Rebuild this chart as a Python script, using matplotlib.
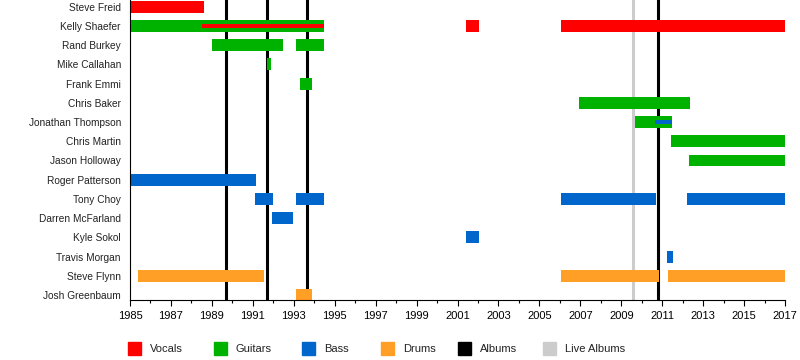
import matplotlib.pyplot as plt
from matplotlib.patches import Rectangle

plt.rcParams['font.family'] = ['Liberation Sans', 'DejaVu Sans']

members = ["Steve Freid", "Kelly Shaefer", "Rand Burkey", "Mike Callahan",
           "Frank Emmi", "Chris Baker", "Jonathan Thompson", "Chris Martin",
           "Jason Holloway", "Roger Patterson", "Tony Choy", "Darren McFarland",
           "Kyle Sokol", "Travis Morgan", "Steve Flynn", "Josh Greenbaum"]

# (member, start, end) in decimal years
vocals = [("Steve Freid", 1985.0, 1988.6),
          ("Kelly Shaefer", 2001.4, 2002.05),
          ("Kelly Shaefer", 2006.05, 2017.0)]
guitars = [("Kelly Shaefer", 1985.0, 1994.5),
           ("Rand Burkey", 1989.0, 1992.47),
           ("Rand Burkey", 1993.1, 1994.5),
           ("Mike Callahan", 1991.7, 1991.9),
           ("Frank Emmi", 1993.3, 1993.9),
           ("Chris Baker", 2006.93, 2012.36),
           ("Jonathan Thompson", 2009.67, 2011.47),
           ("Chris Martin", 2011.43, 2017.0),
           ("Jason Holloway", 2012.31, 2017.0)]
bass = [("Roger Patterson", 1985.0, 1991.16),
        ("Tony Choy", 1991.1, 1992.0),
        ("Tony Choy", 1993.1, 1994.5),
        ("Tony Choy", 2006.05, 2010.7),
        ("Tony Choy", 2012.21, 2017.0),
        ("Darren McFarland", 1991.94, 1992.96),
        ("Kyle Sokol", 2001.4, 2002.05),
        ("Travis Morgan", 2011.23, 2011.53)]
drums = [("Steve Flynn", 1985.39, 1991.55),
         ("Steve Flynn", 2006.05, 2010.84),
         ("Steve Flynn", 2011.28, 2017.0),
         ("Josh Greenbaum", 1993.1, 1993.9)]

# secondary roles shown as thin strips
vocals_thin = [("Kelly Shaefer", 1988.5, 1994.5)]
bass_thin = [("Jonathan Thompson", 2010.65, 2011.47)]

albums = [1989.67, 1991.68, 1993.65, 2010.81]
live_albums = [2009.59]

colors = {"Vocals": "#ff0000", "Guitars": "#00b200", "Bass": "#0066cc",
          "Drums": "#ff9f25", "Albums": "#000000", "Live Albums": "#cccccc"}

fig = plt.figure(figsize=(8, 3.6), dpi=100)
ax = fig.add_axes([130 / 800, 60 / 360, 655 / 800, 300 / 360])

row = {name: len(members) - 1 - i for i, name in enumerate(members)}
bar_h = 0.62
thin_h = 0.2

for x in live_albums:
    ax.axvline(x, color=colors["Live Albums"], lw=2.2, zorder=1)
for x in albums:
    ax.axvline(x, color=colors["Albums"], lw=2.2, zorder=1)

for periods, key in [(vocals, "Vocals"), (guitars, "Guitars"),
                     (bass, "Bass"), (drums, "Drums")]:
    for name, start, end in periods:
        ax.barh(row[name], end - start, left=start, height=bar_h,
                color=colors[key], linewidth=0, zorder=2)

for periods, key in [(vocals_thin, "Vocals"), (bass_thin, "Bass")]:
    for name, start, end in periods:
        ax.barh(row[name], end - start, left=start, height=thin_h,
                color=colors[key], linewidth=0, zorder=3)

ax.set_xlim(1985, 2017)
ax.set_ylim(-0.26, len(members) - 1 + 0.35)
ax.set_yticks(list(row.values()))
ax.set_yticklabels(list(row.keys()), fontsize=7.3, color="#222222")
ax.tick_params(axis="y", length=0, pad=6.5)
ax.set_xticks(range(1985, 2018, 2))
ax.set_xticks(range(1986, 2017, 2), minor=True)
ax.tick_params(axis="x", which="major", length=4, width=0.8, labelsize=8, pad=4)
ax.tick_params(axis="x", which="minor", length=2.2, width=0.8)
for side in ["top", "right"]:
    ax.spines[side].set_visible(False)
for side in ["left", "bottom"]:
    ax.spines[side].set_linewidth(0.8)

# legend along the bottom
legend_x = [128, 214, 302, 381, 458, 543]
for x0, key in zip(legend_x, colors):
    fig.patches.append(Rectangle((x0 / 800, 5 / 360), 13 / 800, 13 / 360,
                                 transform=fig.transFigure, color=colors[key]))
    fig.text((x0 + 22) / 800, 11.5 / 360, key, fontsize=8, va="center",
             color="#222222")

fig.savefig("out.png", dpi=100)
